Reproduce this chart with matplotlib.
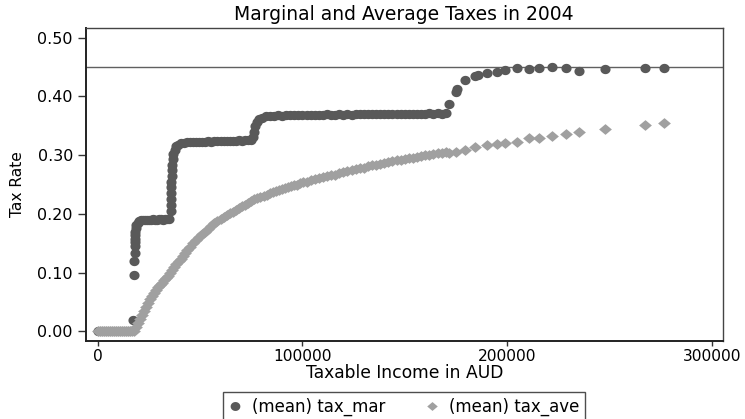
import numpy as np
import matplotlib
matplotlib.use("Agg")
import matplotlib.pyplot as plt
from matplotlib.lines import Line2D
from matplotlib.path import Path

plt.rcParams["font.family"] = ["DejaVu Sans"]

# Income bins (AUD) and mean marginal tax rate
mar_x = [0, 1000, 2000, 3000, 4000, 5000, 6000, 7000, 8000, 9000, 10000, 11000,
         12000, 13000, 14000, 15000, 16000,
         17100, 17900, 17900, 18000, 18100, 18200, 18250, 18300, 18350, 18500,
         18900, 19500, 20300, 21200,
         22000, 23000, 24000, 25000, 26000, 27000, 28000, 29000, 30000, 31000,
         32000, 33000, 34000, 35000,
         35700, 35750, 35800, 35850, 35900, 36000, 36100, 36200, 36300, 36600,
         37000, 37600, 38300, 39300, 40500,
         42000, 43500, 45000, 46500, 48000, 49500, 51000, 52500, 54000, 55500,
         57000, 58500, 60000, 61500, 63000, 64500, 66000, 67500, 69000, 70500,
         72000, 73500, 75000,
         75800, 76400, 77000, 77800, 78800, 80200, 82000,
         84000, 86000, 88000, 90000, 92000, 94000, 96000, 98000, 100000, 102000,
         104000, 106000, 108000, 110000, 112000, 114000, 116000, 118000, 120000,
         122000, 124000, 126000, 128000, 130000, 132000, 134000, 136000, 138000,
         140000, 142000, 144000, 146000, 148000, 150000, 152000, 154000, 156000,
         158000, 160000, 162000, 164000, 166000, 168000, 170000,
         171800, 175000, 175300, 179500, 184300, 186000, 190000, 194900, 199000,
         204700, 210800, 215700, 221800, 228800, 235300, 248000, 267400, 276600]
mar_y = [0, 0, 0, 0, 0, 0, 0, 0, 0, 0, 0, 0,
         0, 0, 0, 0, 0,
         0.019, 0.096, 0.119, 0.133, 0.145, 0.152, 0.158, 0.164, 0.170, 0.176,
         0.181, 0.185, 0.188, 0.189,
         0.190, 0.190, 0.190, 0.189, 0.190, 0.191, 0.190, 0.190, 0.191, 0.191,
         0.190, 0.191, 0.191, 0.192,
         0.205, 0.215, 0.225, 0.235, 0.245, 0.255, 0.265, 0.275, 0.284, 0.293,
         0.302, 0.309, 0.315, 0.318, 0.320,
         0.321, 0.322, 0.322, 0.322, 0.323, 0.322, 0.323, 0.323, 0.324, 0.323,
         0.324, 0.324, 0.324, 0.325, 0.324, 0.325, 0.325, 0.325, 0.326, 0.325,
         0.326, 0.326, 0.326,
         0.331, 0.340, 0.349, 0.356, 0.361, 0.364, 0.366,
         0.367, 0.367, 0.368, 0.367, 0.368, 0.368, 0.368, 0.369, 0.368, 0.369,
         0.369, 0.368, 0.369, 0.369, 0.370, 0.369, 0.369, 0.370, 0.369,
         0.370, 0.369, 0.370, 0.370, 0.370, 0.371, 0.370, 0.370, 0.371,
         0.371, 0.370, 0.371, 0.371, 0.370, 0.371, 0.371, 0.371, 0.370,
         0.371, 0.371, 0.372, 0.371, 0.372, 0.371, 0.372,
         0.388, 0.408, 0.412, 0.428, 0.435, 0.437, 0.440, 0.442, 0.445,
         0.448, 0.447, 0.448, 0.450, 0.448, 0.444, 0.447, 0.448, 0.448]

# Income bins (AUD) and mean average tax rate
ave_x = [0, 1000, 2000, 3000, 4000, 5000, 6000, 7000, 8000, 9000, 10000, 11000,
         12000, 13000, 14000, 15000, 16000, 17000,
         17500, 18500, 19500, 20500, 21500, 22500, 23500, 24500, 25500, 26500,
         27500, 28500, 29500, 30500, 31500, 32500, 33500, 34500, 35500, 36500,
         37500, 38500, 39500, 40500, 41500, 42500, 43500,
         45000, 46500, 48000, 49500, 51000, 52500, 54000, 55500, 57000, 58500,
         60000, 61500, 63000, 64500, 66000, 67500, 69000, 70500, 72000, 73500,
         75000, 76500, 78000, 79500, 81000, 82500, 84000, 85500, 87000, 88500,
         90000, 91500, 93000, 94500, 96000, 97500, 99000, 100500,
         102000, 104000, 106000, 108000, 110000, 112000, 114000, 116000, 118000,
         120000, 122000, 124000, 126000, 128000, 130000, 132000, 134000, 136000,
         138000, 140000, 142000, 144000, 146000, 148000, 150000, 152000, 154000,
         156000, 158000, 160000, 162000, 164000, 166000, 168000, 170000,
         171800, 175000, 179500, 184300, 190000, 194900, 199000, 204700, 210800,
         215700, 221800, 228800, 235300, 248000, 267400, 276600]
ave_y = [0, 0, 0, 0, 0, 0, 0, 0, 0, 0, 0, 0,
         0, 0, 0, 0, 0, 0,
         0.001, 0.007, 0.014, 0.021, 0.028, 0.035, 0.042, 0.049, 0.055, 0.060,
         0.065, 0.070, 0.075, 0.079, 0.083, 0.087, 0.091, 0.095, 0.099, 0.104,
         0.110, 0.115, 0.120, 0.124, 0.129, 0.133, 0.138,
         0.144, 0.150, 0.156, 0.161, 0.166, 0.170, 0.175, 0.179, 0.184, 0.188,
         0.192, 0.195, 0.198, 0.201, 0.204, 0.207, 0.210, 0.213, 0.216, 0.219,
         0.222, 0.225, 0.227, 0.229, 0.231, 0.233, 0.235, 0.237, 0.239, 0.241,
         0.242, 0.244, 0.246, 0.247, 0.249, 0.250, 0.252, 0.254,
         0.255, 0.257, 0.259, 0.261, 0.263, 0.264, 0.266, 0.267, 0.269,
         0.271, 0.273, 0.274, 0.276, 0.278, 0.279, 0.281, 0.283, 0.284,
         0.285, 0.287, 0.288, 0.290, 0.291, 0.292, 0.294, 0.295, 0.296,
         0.297, 0.298, 0.300, 0.301, 0.302, 0.303, 0.304, 0.305,
         0.303, 0.306, 0.309, 0.314, 0.317, 0.319, 0.320, 0.323, 0.329,
         0.330, 0.333, 0.336, 0.340, 0.344, 0.351, 0.354]

top_rate = 0.45
x_ticks = [0, 100000, 200000, 300000]
y_ticks = [0.0, 0.1, 0.2, 0.3, 0.4, 0.5]

dark = "#595959"
light = "#a0a0a0"

# Slightly wide markers: an ellipse and a flattened diamond
t = np.linspace(0, 2 * np.pi, 41)
ellipse = Path(np.column_stack([np.cos(t), 0.92 * np.sin(t)]), closed=True)
diamond = Path([(-1, 0), (0, 0.84), (1, 0), (0, -0.84), (-1, 0)], closed=True)

fig = plt.figure(figsize=(7.45, 4.19), dpi=100)
ax = fig.add_axes([0.1154, 0.1869, 0.8547, 0.7463])

ax.axhline(top_rate, color="#606060", lw=1.0, zorder=1)
ax.plot(mar_x, mar_y, linestyle="none", marker=ellipse, ms=7.3, mfc=dark,
        mec="none", zorder=2)
ax.plot(ave_x, ave_y, linestyle="none", marker=diamond, ms=9.2, mfc=light,
        mec="none", zorder=3)

ax.set_xlim(-5716, 305300)
ax.set_ylim(-0.016, 0.5167)
ax.set_xticks(x_ticks)
ax.set_xticklabels([str(v) for v in x_ticks])
ax.set_yticks(y_ticks)
ax.set_yticklabels([f"{v:.2f}" for v in y_ticks])

ax.tick_params(axis="y", length=6, width=1.0, pad=3.4, labelsize=11.5,
               color="#333333")
ax.tick_params(axis="x", length=3.6, width=1.0, pad=2.2, labelsize=11.2,
               color="#333333")

for side in ("left", "bottom"):
    ax.spines[side].set_linewidth(1.4)
    ax.spines[side].set_color("#222222")
for side in ("top", "right"):
    ax.spines[side].set_linewidth(1.0)
    ax.spines[side].set_color("#444444")

fig.text(404 / 745, 1 - 20.5 / 419, "Marginal and Average Taxes in 2004",
         fontsize=13.5, ha="center", va="baseline")
ax.set_xlabel("Taxable Income in AUD", fontsize=12.3, labelpad=0.5)
ax.set_ylabel("Tax Rate", fontsize=11.2, labelpad=8.5)

handles = [
    Line2D([], [], linestyle="none", marker=ellipse, ms=7.0, mfc=dark, mec="none"),
    Line2D([], [], linestyle="none", marker=diamond, ms=7.6, mfc=light, mec="none"),
]
leg = fig.legend(handles, ["(mean) tax_mar", "(mean) tax_ave"], ncol=2,
                 loc="upper center", bbox_to_anchor=(404 / 745, 1 - 391.7 / 419),
                 fontsize=12, frameon=True, fancybox=False, borderpad=0.35,
                 handlelength=0.8, handletextpad=0.6, columnspacing=2.4,
                 borderaxespad=0)
leg.get_frame().set_edgecolor("#222222")
leg.get_frame().set_linewidth(1.0)

fig.savefig("out.png", dpi=100)
